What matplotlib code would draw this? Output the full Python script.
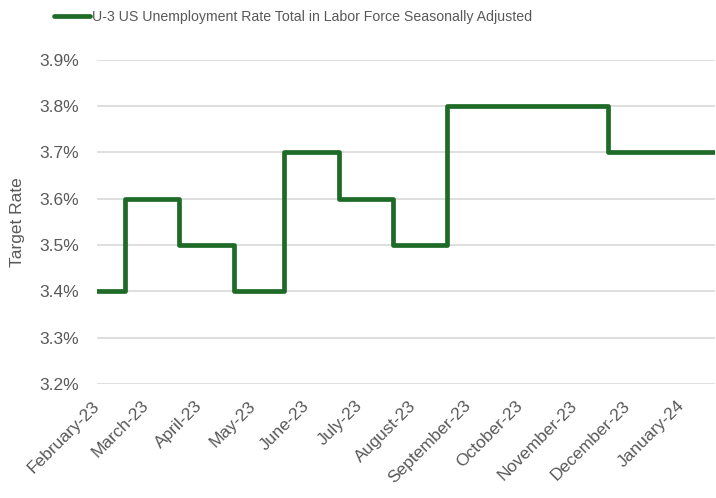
import pandas as pd
import matplotlib.pyplot as plt
import matplotlib.dates as mdates
from matplotlib.ticker import FuncFormatter

# dates where the rate changes, and the rate from that date on
change_dates = ['2023-02-01', '2023-02-17', '2023-03-20', '2023-04-20', '2023-05-19',
                '2023-06-19', '2023-07-20', '2023-08-20', '2023-11-20', '2024-01-20']
rates = [3.4, 3.6, 3.5, 3.4, 3.7, 3.6, 3.5, 3.8, 3.7, 3.7]
series_name = 'U-3 US Unemployment Rate Total in Labor Force Seasonally Adjusted'

green = '#1E6B27'
grey = '#595959'

plt.rcParams['font.family'] = ['Liberation Sans', 'DejaVu Sans']

dates = pd.to_datetime(change_dates)

fig = plt.figure(figsize=(7.16, 4.98), dpi=100)
ax = fig.add_axes([0.1355, 0.229, 0.863, 0.651])

ax.step(dates, rates, where='post', color=green, linewidth=3.4,
        solid_joinstyle='round', solid_capstyle='round', label=series_name)

ax.set_ylim(3.2, 3.9)
ax.set_yticks([3.2, 3.3, 3.4, 3.5, 3.6, 3.7, 3.8, 3.9])
ax.yaxis.set_major_formatter(FuncFormatter(lambda v, p: '{:.1f}%'.format(v)))
ax.set_xlim(dates[0], dates[-1])
ax.xaxis.set_major_locator(mdates.MonthLocator())
ax.xaxis.set_major_formatter(mdates.DateFormatter('%B-%y'))
plt.setp(ax.get_xticklabels(), rotation=45, ha='right', va='center', rotation_mode='anchor')

ax.grid(axis='y', color='#D9D9D9', linewidth=1.2)
ax.set_axisbelow(True)
for s in ax.spines.values():
    s.set_visible(False)
ax.tick_params(length=0, labelsize=12.5, labelcolor=grey)
ax.tick_params(axis='y', pad=13)
ax.tick_params(axis='x', pad=14)
ax.set_ylabel('Target Rate', fontsize=12.5, color=grey, labelpad=10)

fig.legend(loc='upper left', bbox_to_anchor=(0.058, 1.005), frameon=False,
           fontsize=10.2, handlelength=2.5, handletextpad=0.15, labelcolor=grey)

fig.savefig('out.png', dpi=100)
